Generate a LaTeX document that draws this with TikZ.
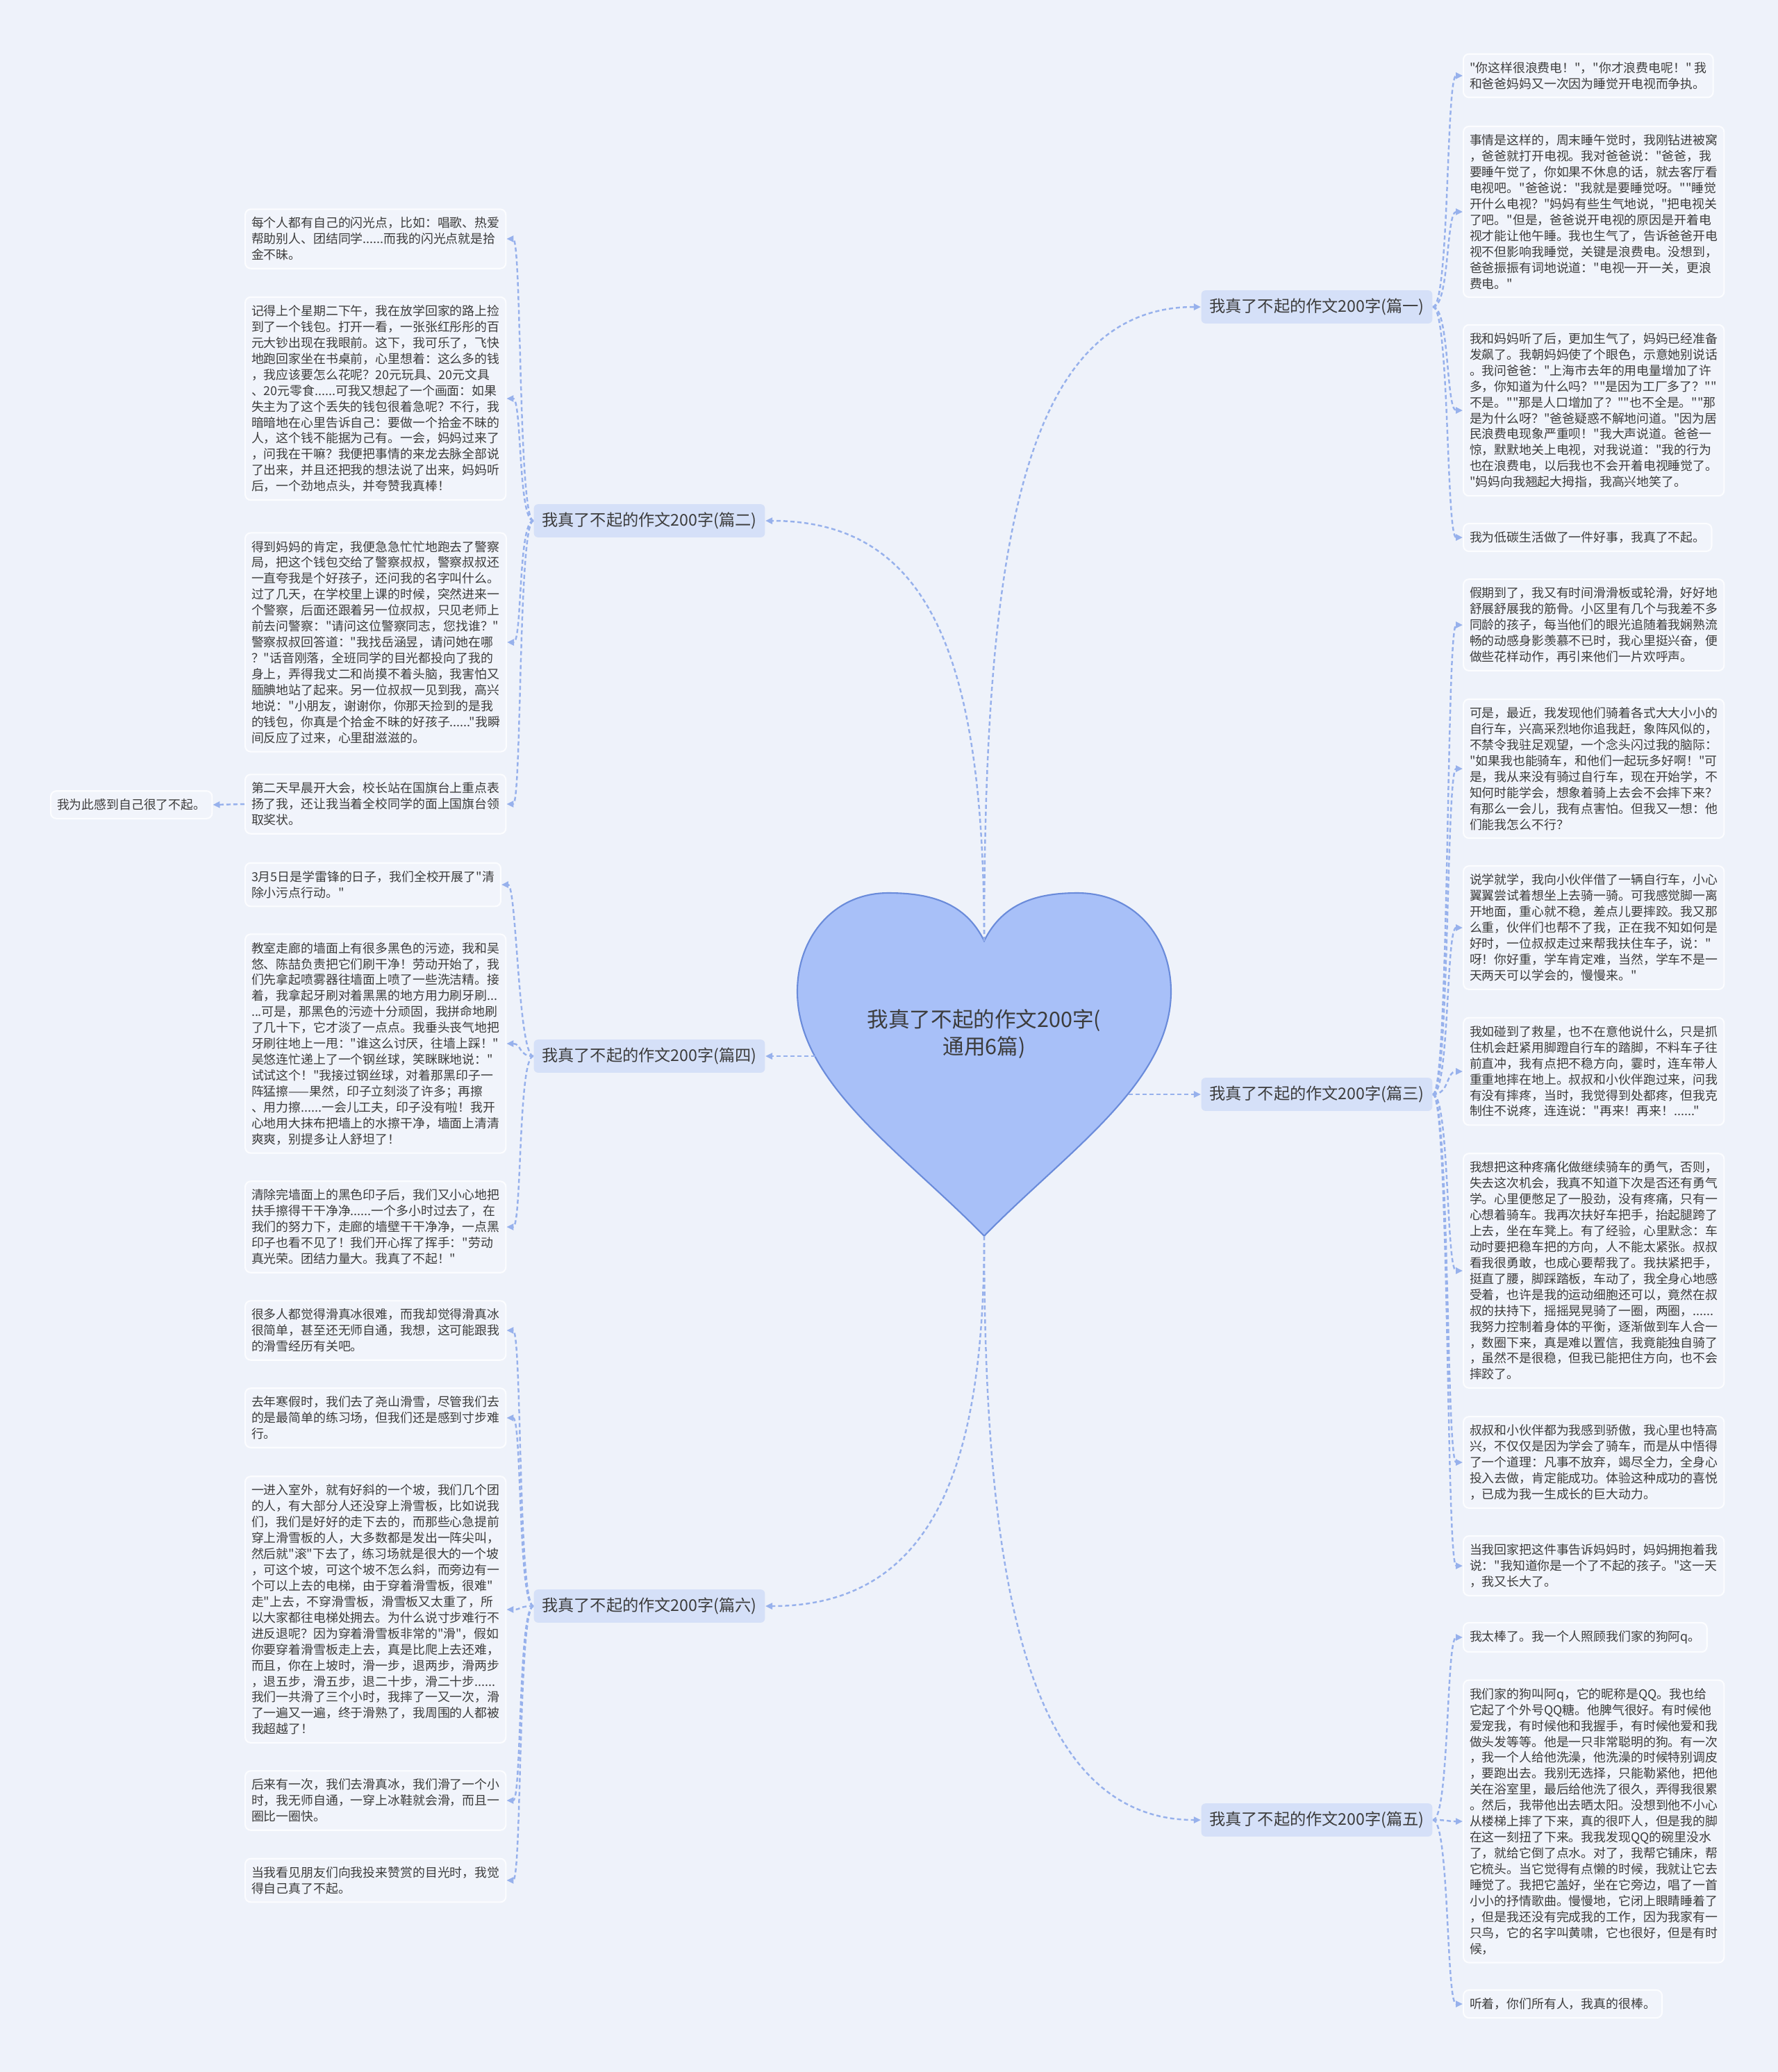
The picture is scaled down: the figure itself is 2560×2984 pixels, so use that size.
\documentclass[tikz,border=0pt]{standalone}
\usepackage{fontspec}
\newfontfamily\cjk{Noto Sans CJK SC}
\usepackage{tikz}
\usetikzlibrary{arrows.meta}
\definecolor{canvas}{HTML}{EEF2FA}
\definecolor{leaffill}{HTML}{F1F4FB}
\definecolor{leafline}{HTML}{FCFDFF}
\definecolor{partfill}{HTML}{D5E0F8}
\definecolor{heartfill}{HTML}{A8C0F8}
\definecolor{heartline}{HTML}{6A8BDA}
\definecolor{linkcol}{HTML}{97B1EC}
\definecolor{inktext}{HTML}{3C3C3C}

\begin{document}
\begin{tikzpicture}[
        x=0.01cm, y=-0.01cm,
        leaf/.style={rectangle, rounded corners=0.08cm, draw=leafline, line width=0.6pt, fill=leaffill, text=inktext, align=left, anchor=west, inner xsep=0.09cm, inner ysep=0.115cm, font={\cjk\fontsize{5.08pt}{6.52pt}\selectfont}},
        part/.style={rectangle, rounded corners=0.06cm, fill=partfill, text=inktext, inner xsep=0.115cm, minimum height=0.42cm, font={\cjk\fontsize{6.6pt}{8pt}\selectfont}},
        link/.style={-{Triangle[length=0.1cm, width=0.09cm]}, draw=linkcol, line width=0.7pt, dash pattern=on 0.06cm off 0.04cm}
    ]
        \fill[canvas] (0,0) rectangle (2560,2984);
        \useasboundingbox (0,0) rectangle (2560,2984);

        % heart in the middle
        \path[draw=heartline, fill=heartfill, line width=0.6pt]
            (1417,1355) .. controls (1390,1300) and (1340,1286) .. (1279,1286)
            .. controls (1200,1286) and (1148,1350) .. (1148,1428)
            .. controls (1148,1560) and (1300,1660) .. (1417,1780)
            .. controls (1534,1660) and (1686,1560) .. (1686,1428)
            .. controls (1686,1350) and (1634,1286) .. (1551,1286)
            .. controls (1494,1286) and (1444,1300) .. (1417,1355) -- cycle;
        \node[align=center, text=inktext, font={\cjk\fontsize{8.7pt}{11.3pt}\selectfont}] (root) at (1417,1489) {我真了不起的作文200字(\\通用6篇)};
        \coordinate (heartN) at (1417,1355);
        \coordinate (heartS) at (1417,1780);
        \coordinate (heartE) at (1625,1576);
        \coordinate (heartW) at (1174,1521);

        % six parts
        \node[part] (part1) at (1896,442) {我真了不起的作文200字(篇一)};
        \node[part] (part3) at (1896,1576) {我真了不起的作文200字(篇三)};
        \node[part] (part5) at (1896,2621) {我真了不起的作文200字(篇五)};
        \node[part] (part2) at (935,750) {我真了不起的作文200字(篇二)};
        \node[part] (part4) at (935,1521) {我真了不起的作文200字(篇四)};
        \node[part] (part6) at (935,2313) {我真了不起的作文200字(篇六)};

        % part one
        \node[leaf] (part1a) at (2106,109) {"你这样很浪费电！"，"你才浪费电呢！" 我\\和爸爸妈妈又一次因为睡觉开电视而争执。};
        \node[leaf] (part1b) at (2106,305) {事情是这样的，周末睡午觉时，我刚钻进被窝\\，爸爸就打开电视。我对爸爸说："爸爸，我\\要睡午觉了，你如果不休息的话，就去客厅看\\电视吧。"爸爸说："我就是要睡觉呀。""睡觉\\开什么电视？"妈妈有些生气地说，"把电视关\\了吧。"但是，爸爸说开电视的原因是开着电\\视才能让他午睡。我也生气了，告诉爸爸开电\\视不但影响我睡觉，关键是浪费电。没想到，\\爸爸振振有词地说道："电视一开一关，更浪\\费电。"};
        \node[leaf] (part1c) at (2106,591) {我和妈妈听了后，更加生气了，妈妈已经准备\\发飙了。我朝妈妈使了个眼色，示意她别说话\\。我问爸爸："上海市去年的用电量增加了许\\多，你知道为什么吗？""是因为工厂多了？""\\不是。""那是人口增加了？""也不全是。""那\\是为什么呀？"爸爸疑惑不解地问道。"因为居\\民浪费电现象严重呗！"我大声说道。爸爸一\\惊，默默地关上电视，对我说道："我的行为\\也在浪费电，以后我也不会开着电视睡觉了。\\"妈妈向我翘起大拇指，我高兴地笑了。};
        \node[leaf] (part1d) at (2106,774) {我为低碳生活做了一件好事，我真了不起。};

        % part three
        \node[leaf] (part3a) at (2106,900) {假期到了，我又有时间滑滑板或轮滑，好好地\\舒展舒展我的筋骨。小区里有几个与我差不多\\同龄的孩子，每当他们的眼光追随着我娴熟流\\畅的动感身影羡慕不已时，我心里挺兴奋，便\\做些花样动作，再引来他们一片欢呼声。};
        \node[leaf] (part3b) at (2106,1107) {可是，最近，我发现他们骑着各式大大小小的\\自行车，兴高采烈地你追我赶，象阵风似的，\\不禁令我驻足观望，一个念头闪过我的脑际：\\"如果我也能骑车，和他们一起玩多好啊！"可\\是，我从来没有骑过自行车，现在开始学，不\\知何时能学会，想象着骑上去会不会摔下来？\\有那么一会儿，我有点害怕。但我又一想：他\\们能我怎么不行？};
        \node[leaf] (part3c) at (2106,1336) {说学就学，我向小伙伴借了一辆自行车，小心\\翼翼尝试着想坐上去骑一骑。可我感觉脚一离\\开地面，重心就不稳，差点儿要摔跤。我又那\\么重，伙伴们也帮不了我，正在我不知如何是\\好时，一位叔叔走过来帮我扶住车子，说："\\呀！你好重，学车肯定难，当然，学车不是一\\天两天可以学会的，慢慢来。"};
        \node[leaf] (part3d) at (2106,1543) {我如碰到了救星，也不在意他说什么，只是抓\\住机会赶紧用脚蹬自行车的踏脚，不料车子往\\前直冲，我有点把不稳方向，霎时，连车带人\\重重地摔在地上。叔叔和小伙伴跑过来，问我\\有没有摔疼，当时，我觉得到处都疼，但我克\\制住不说疼，连连说："再来！再来！......"};
        \node[leaf] (part3e) at (2106,1830) {我想把这种疼痛化做继续骑车的勇气，否则，\\失去这次机会，我真不知道下次是否还有勇气\\学。心里便憋足了一股劲，没有疼痛，只有一\\心想着骑车。我再次扶好车把手，抬起腿跨了\\上去，坐在车凳上。有了经验，心里默念：车\\动时要把稳车把的方向，人不能太紧张。叔叔\\看我很勇敢，也成心要帮我了。我扶紧把手，\\挺直了腰，脚踩踏板，车动了，我全身心地感\\受着，也许是我的运动细胞还可以，竟然在叔\\叔的扶持下，摇摇晃晃骑了一圈，两圈，......\\我努力控制着身体的平衡，逐渐做到车人合一\\，数圈下来，真是难以置信，我竟能独自骑了\\，虽然不是很稳，但我已能把住方向，也不会\\摔跤了。};
        \node[leaf] (part3f) at (2106,2106) {叔叔和小伙伴都为我感到骄傲，我心里也特高\\兴，不仅仅是因为学会了骑车，而是从中悟得\\了一个道理：凡事不放弃，竭尽全力，全身心\\投入去做，肯定能成功。体验这种成功的喜悦\\，已成为我一生成长的巨大动力。};
        \node[leaf] (part3g) at (2106,2255) {当我回家把这件事告诉妈妈时，妈妈拥抱着我\\说："我知道你是一个了不起的孩子。"这一天\\，我又长大了。};

        % part five
        \node[leaf] (part5a) at (2106,2358) {我太棒了。我一个人照顾我们家的狗阿q。};
        \node[leaf] (part5b) at (2106,2623) {我们家的狗叫阿q，它的昵称是QQ。我也给\\它起了个外号QQ糖。他脾气很好。有时候他\\爱宠我，有时候他和我握手，有时候他爱和我\\做头发等等。他是一只非常聪明的狗。有一次\\，我一个人给他洗澡，他洗澡的时候特别调皮\\，要跑出去。我别无选择，只能勒紧他，把他\\关在浴室里，最后给他洗了很久，弄得我很累\\。然后，我带他出去晒太阳。没想到他不小心\\从楼梯上摔了下来，真的很吓人，但是我的脚\\在这一刻扭了下来。我我发现QQ的碗里没水\\了，就给它倒了点水。对了，我帮它铺床，帮\\它梳头。当它觉得有点懒的时候，我就让它去\\睡觉了。我把它盖好，坐在它旁边，唱了一首\\小小的抒情歌曲。慢慢地，它闭上眼睛睡着了\\，但是我还没有完成我的工作，因为我家有一\\只鸟，它的名字叫黄啸，它也很好，但是有时\\候，};
        \node[leaf] (part5c) at (2106,2886) {听着，你们所有人，我真的很棒。};

        % part two
        \node[leaf] (part2a) at (352,344) {每个人都有自己的闪光点，比如：唱歌、热爱\\帮助别人、团结同学......而我的闪光点就是拾\\金不昧。};
        \node[leaf] (part2b) at (352,574) {记得上个星期二下午，我在放学回家的路上捡\\到了一个钱包。打开一看，一张张红彤彤的百\\元大钞出现在我眼前。这下，我可乐了，飞快\\地跑回家坐在书桌前，心里想着：这么多的钱\\，我应该要怎么花呢？20元玩具、20元文具\\、20元零食......可我又想起了一个画面：如果\\失主为了这个丢失的钱包很着急呢？不行，我\\暗暗地在心里告诉自己：要做一个拾金不昧的\\人，这个钱不能据为己有。一会，妈妈过来了\\，问我在干嘛？我便把事情的来龙去脉全部说\\了出来，并且还把我的想法说了出来，妈妈听\\后，一个劲地点头，并夸赞我真棒！};
        \node[leaf] (part2c) at (352,925) {得到妈妈的肯定，我便急急忙忙地跑去了警察\\局，把这个钱包交给了警察叔叔，警察叔叔还\\一直夸我是个好孩子，还问我的名字叫什么。\\过了几天，在学校里上课的时候，突然进来一\\个警察，后面还跟着另一位叔叔，只见老师上\\前去问警察："请问这位警察同志，您找谁？"\\警察叔叔回答道："我找岳涵昱，请问她在哪\\？"话音刚落，全班同学的目光都投向了我的\\身上，弄得我丈二和尚摸不着头脑，我害怕又\\腼腆地站了起来。另一位叔叔一见到我，高兴\\地说："小朋友，谢谢你，你那天捡到的是我\\的钱包，你真是个拾金不昧的好孩子......"我瞬\\间反应了过来，心里甜滋滋的。};
        \node[leaf] (part2d) at (352,1158) {第二天早晨开大会，校长站在国旗台上重点表\\扬了我，还让我当着全校同学的面上国旗台领\\取奖状。};
        \node[leaf] (part2e) at (72,1159) {我为此感到自己很了不起。};

        % part four
        \node[leaf] (part4a) at (352,1274) {3月5日是学雷锋的日子，我们全校开展了"清\\除小污点行动。"};
        \node[leaf] (part4b) at (352,1503) {教室走廊的墙面上有很多黑色的污迹，我和吴\\悠、陈喆负责把它们刷干净！劳动开始了，我\\们先拿起喷雾器往墙面上喷了一些洗洁精。接\\着，我拿起牙刷对着黑黑的地方用力刷牙刷...\\...可是，那黑色的污迹十分顽固，我拼命地刷\\了几十下，它才淡了一点点。我垂头丧气地把\\牙刷往地上一甩："谁这么讨厌，往墙上踩！"\\吴悠连忙递上了一个钢丝球，笑眯眯地说："\\试试这个！"我接过钢丝球，对着那黑印子一\\阵猛擦——果然，印子立刻淡了许多；再擦\\、用力擦......一会儿工夫，印子没有啦！我开\\心地用大抹布把墙上的水擦干净，墙面上清清\\爽爽，别提多让人舒坦了！};
        \node[leaf] (part4c) at (352,1767) {清除完墙面上的黑色印子后，我们又小心地把\\扶手擦得干干净净......一个多小时过去了，在\\我们的努力下，走廊的墙壁干干净净，一点黑\\印子也看不见了！我们开心挥了挥手："劳动\\真光荣。团结力量大。我真了不起！"};

        % part six
        \node[leaf] (part6a) at (352,1916) {很多人都觉得滑真冰很难，而我却觉得滑真冰\\很简单，甚至还无师自通，我想，这可能跟我\\的滑雪经历有关吧。};
        \node[leaf] (part6b) at (352,2042) {去年寒假时，我们去了尧山滑雪，尽管我们去\\的是最简单的练习场，但我们还是感到寸步难\\行。};
        \node[leaf] (part6c) at (352,2318) {一进入室外，就有好斜的一个坡，我们几个团\\的人，有大部分人还没穿上滑雪板，比如说我\\们，我们是好好的走下去的，而那些心急提前\\穿上滑雪板的人，大多数都是发出一阵尖叫，\\然后就"滚"下去了，练习场就是很大的一个坡\\，可这个坡，可这个坡不怎么斜，而旁边有一\\个可以上去的电梯，由于穿着滑雪板，很难"\\走"上去，不穿滑雪板，滑雪板又太重了，所\\以大家都往电梯处拥去。为什么说寸步难行不\\进反退呢？因为穿着滑雪板非常的"滑"，假如\\你要穿着滑雪板走上去，真是比爬上去还难，\\而且，你在上坡时，滑一步，退两步，滑两步\\，退五步，滑五步，退二十步，滑二十步......\\我们一共滑了三个小时，我摔了一又一次，滑\\了一遍又一遍，终于滑熟了，我周围的人都被\\我超越了！};
        \node[leaf] (part6d) at (352,2593) {后来有一次，我们去滑真冰，我们滑了一个小\\时，我无师自通，一穿上冰鞋就会滑，而且一\\圈比一圈快。};
        \node[leaf] (part6e) at (352,2708) {当我看见朋友们向我投来赞赏的目光时，我觉\\得自己真了不起。};

        % links from the heart
        \draw[link] (heartN) .. controls (1417,800) and (1470,442) .. (part1.west);
        \draw[link] (heartN) .. controls (1417,950) and (1340,750) .. (part2.east);
        \draw[link] (heartE) -- (part3.west);
        \draw[link] (heartW) -- (part4.east);
        \draw[link] (heartS) .. controls (1417,2250) and (1470,2621) .. (part5.west);
        \draw[link] (heartS) .. controls (1417,2100) and (1350,2313) .. (part6.east);

        % links to the leaves
        \draw[link] (part1.east) .. controls +(24,0) and +(-24,0) .. (part1a.west);
        \draw[link] (part1.east) .. controls +(24,0) and +(-24,0) .. (part1b.west);
        \draw[link] (part1.east) .. controls +(24,0) and +(-24,0) .. (part1c.west);
        \draw[link] (part1.east) .. controls +(24,0) and +(-24,0) .. (part1d.west);
        \draw[link] (part3.east) .. controls +(24,0) and +(-24,0) .. (part3a.west);
        \draw[link] (part3.east) .. controls +(24,0) and +(-24,0) .. (part3b.west);
        \draw[link] (part3.east) .. controls +(24,0) and +(-24,0) .. (part3c.west);
        \draw[link] (part3.east) .. controls +(24,0) and +(-24,0) .. (part3d.west);
        \draw[link] (part3.east) .. controls +(24,0) and +(-24,0) .. (part3e.west);
        \draw[link] (part3.east) .. controls +(24,0) and +(-24,0) .. (part3f.west);
        \draw[link] (part3.east) .. controls +(24,0) and +(-24,0) .. (part3g.west);
        \draw[link] (part5.east) .. controls +(24,0) and +(-24,0) .. (part5a.west);
        \draw[link] (part5.east) .. controls +(24,0) and +(-24,0) .. (part5b.west);
        \draw[link] (part5.east) .. controls +(24,0) and +(-24,0) .. (part5c.west);
        \draw[link] (part2.west) .. controls +(-22,0) and +(22,0) .. (part2a.east);
        \draw[link] (part2.west) .. controls +(-22,0) and +(22,0) .. (part2b.east);
        \draw[link] (part2.west) .. controls +(-22,0) and +(22,0) .. (part2c.east);
        \draw[link] (part2.west) .. controls +(-22,0) and +(22,0) .. (part2d.east);
        \draw[link] (part2d.west) -- (part2e.east);
        \draw[link] (part4.west) .. controls +(-22,0) and +(22,0) .. (part4a.east);
        \draw[link] (part4.west) .. controls +(-22,0) and +(22,0) .. (part4b.east);
        \draw[link] (part4.west) .. controls +(-22,0) and +(22,0) .. (part4c.east);
        \draw[link] (part6.west) .. controls +(-22,0) and +(22,0) .. (part6a.east);
        \draw[link] (part6.west) .. controls +(-22,0) and +(22,0) .. (part6b.east);
        \draw[link] (part6.west) .. controls +(-22,0) and +(22,0) .. (part6c.east);
        \draw[link] (part6.west) .. controls +(-22,0) and +(22,0) .. (part6d.east);
        \draw[link] (part6.west) .. controls +(-22,0) and +(22,0) .. (part6e.east);
    \end{tikzpicture}
\end{document}
